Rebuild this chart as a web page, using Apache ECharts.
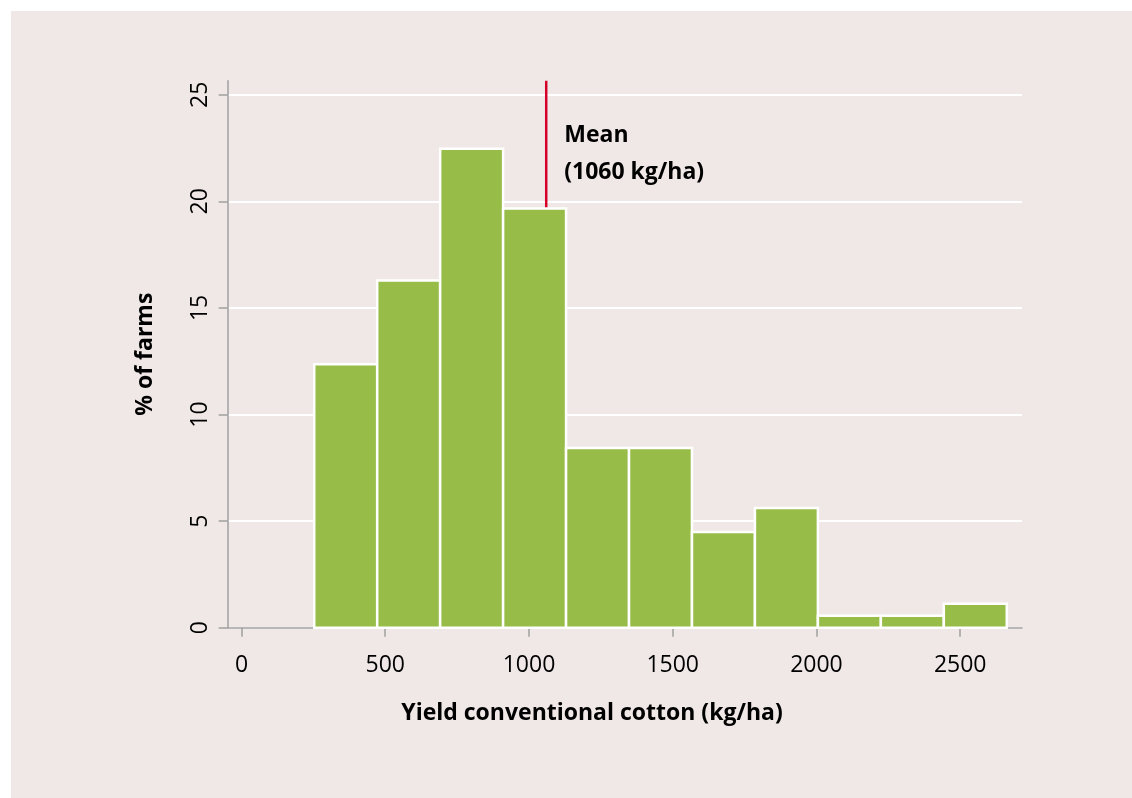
<!DOCTYPE html>
<html>
<head>
<meta charset="utf-8">
<script src="https://cdn.jsdelivr.net/npm/echarts@6/dist/echarts.min.js"></script>
<style>
  html, body { margin: 0; padding: 0; background: #ffffff; }
  #chart { position: absolute; left: 11px; top: 11px; width: 1121px; height: 787px; background: #f0e8e6; }
</style>
</head>
<body>
<div id="chart"></div>
<script>
// ---- data ----
const binEdges = [253, 472, 691, 910, 1129, 1348, 1567, 1786, 2005, 2224, 2443, 2662];
const percentFarms = [12.36, 16.29, 22.47, 19.66, 8.43, 8.43, 4.49, 5.62, 0.56, 0.56, 1.12];
const xTicks = [0, 500, 1000, 1500, 2000, 2500];
const yTicks = [0, 5, 10, 15, 20, 25];
const meanYield = 1060;
const meanBarHeight = 19.66;
const xRange = [-48, 2715];
const yRange = [0, 25.66];
const meanLabel = 'Mean\n(1060 kg/ha)';
const meanLabelY = 22.22;

const histData = percentFarms.map((v, i) => [binEdges[i], binEdges[i + 1], v]);

const chart = echarts.init(document.getElementById('chart'), null, { renderer: 'canvas' });
const FONT = '"Open Sans", "Noto Sans", sans-serif';

chart.setOption({
  animation: false,
  backgroundColor: '#f0e8e6',
  textStyle: { fontFamily: FONT },
  title: {
    text: 'Yield conventional cotton (kg/ha)',
    left: 576, top: 686,
    textAlign: 'center',
    textStyle: { fontFamily: FONT, fontWeight: 'bold', fontSize: 23, color: '#000' }
  },
  grid: { left: 216.7, top: 69.7, right: 110, bottom: 170.3, containLabel: false },
  xAxis: {
    type: 'value',
    min: xRange[0], max: xRange[1],
    axisLine: { show: true, onZero: false, lineStyle: { color: '#a0a0a0', width: 1.5 } },
    axisTick: { show: true, length: 9, customValues: xTicks, lineStyle: { color: '#a0a0a0', width: 1.5 } },
    axisLabel: { customValues: xTicks, margin: 26, fontSize: 23, color: '#000', fontFamily: FONT,
                 formatter: function (v) { return String(v); } },
    splitLine: { show: false }
  },
  yAxis: {
    type: 'value',
    min: yRange[0], max: yRange[1],
    name: '% of farms',
    nameLocation: 'middle',
    nameGap: 71,
    nameRotate: 90,
    nameTextStyle: { fontFamily: FONT, fontWeight: 'bold', fontSize: 23, color: '#000' },
    axisLine: { show: true, onZero: false, lineStyle: { color: '#a0a0a0', width: 1.5 } },
    axisTick: { show: true, length: 9, customValues: yTicks, lineStyle: { color: '#a0a0a0', width: 1.5 } },
    axisLabel: { customValues: yTicks, rotate: 90, margin: 16, fontSize: 23, color: '#000', fontFamily: FONT,
                 formatter: function (v) { return String(v); } },
    splitLine: { show: true, lineStyle: { color: '#ffffff', width: 1.8 } }
  },
  series: [
    {
      type: 'custom',
      data: histData,
      encode: { x: [0, 1], y: 2 },
      renderItem: function (params, api) {
        const p0 = api.coord([api.value(0), api.value(2)]);
        const p1 = api.coord([api.value(1), 0]);
        return {
          type: 'rect',
          shape: { x: p0[0], y: p0[1], width: p1[0] - p0[0], height: p1[1] - p0[1] },
          style: { fill: '#97bd48', stroke: '#ffffff', lineWidth: 2.5 }
        };
      },
      z: 2
    },
    {
      type: 'line',
      data: [[meanYield, meanBarHeight], [meanYield, yRange[1]]],
      symbol: 'none',
      lineStyle: { color: '#d4002b', width: 2.5 },
      z: 1
    },
    {
      type: 'scatter',
      data: [[meanYield, meanLabelY]],
      symbolSize: 0,
      itemStyle: { opacity: 1 },
      label: {
        show: true,
        position: 'right',
        distance: 18,
        formatter: meanLabel,
        fontFamily: FONT,
        fontWeight: 'bold',
        fontSize: 23,
        lineHeight: 37,
        color: '#000',
        opacity: 1,
        align: 'left'
      },
      z: 3
    }
  ]
});
</script>
</body>
</html>
